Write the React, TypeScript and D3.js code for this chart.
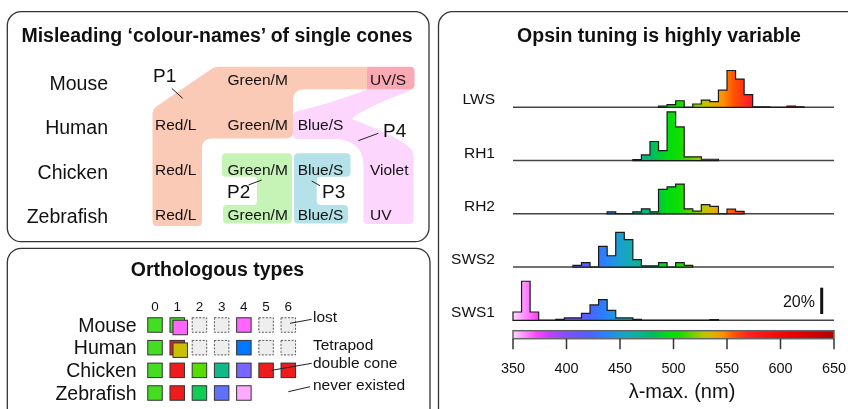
import React from 'react';
import * as d3 from 'd3';

// ---- data ----
const species = ['Mouse', 'Human', 'Chicken', 'Zebrafish'];
const coneNames = [
  ['', 'Green/M', '', 'UV/S'],
  ['Red/L', 'Green/M', 'Blue/S', ''],
  ['Red/L', 'Green/M', 'Blue/S', 'Violet'],
  ['Red/L', 'Green/M', 'Blue/S', 'UV'],
];

const typeIds = [0, 1, 2, 3, 4, 5, 6];
// "a|b" = two overlapping squares, "lost" = dashed grey, "" = never existed
const mouseTypes = ['#44dd22', '#44dd22|#ff66ff', 'lost', 'lost', '#ff66ff', 'lost', 'lost'];
const humanTypes = ['#44dd22', '#ee1c1c|#c8c000', 'lost', 'lost', '#0077ff', 'lost', 'lost'];
const chickenTypes = ['#44dd22', '#ee1c1c', '#55dd00', '#11b888', '#7766ff', '#ee1c1c', '#ee1c1c'];
const zebrafishTypes = ['#44dd22', '#ee1c1c', '#11cc55', '#6070ff', '#ffaaff', '', ''];
const typeRows = [mouseTypes, humanTypes, chickenTypes, zebrafishTypes];

const opsins = ['LWS', 'RH1', 'RH2', 'SWS2', 'SWS1'];
const binWidth = 8; // nm
const lwsStart = 486;
const lwsValues = [1, 2, 5, 0, 2.5, 5.5, 4.3, 13, 28, 21.5, 9.6, 0.3, 0.3, 0, 0, 1, 0.4];
const rh1Start = 462;
const rh1Values = [0.8, 4.3, 14.5, 7.6, 37, 25.6, 2.8, 2.8, 1, 1];
const rh2Start = 438;
const rh2Values = [1.5, 0, 0, 1.5, 3.8, 1.5, 18.5, 20.5, 22.6, 3.8, 2, 7, 5.6, 0, 3.5, 1.8];
const sws2Start = 406;
const sws2Values = [1.3, 3.3, 0, 15.7, 8.6, 26.4, 20.8, 5.6, 1, 1, 3.3, 0, 3.3, 1.3];
const sws1Start = 350;
const sws1Values = [6.3, 29.7, 6.3, 0, 0, 0.8, 1.8, 1.8, 5.3, 11.7, 15.7, 7.6, 1.8, 1.8, 0.8, 0, 0, 0, 0, 0, 0, 0, 0, 0.5];
const histStarts = [lwsStart, rh1Start, rh2Start, sws2Start, sws1Start];
const histValues = [lwsValues, rh1Values, rh2Values, sws2Values, sws1Values];

const nmTicks = [350, 400, 450, 500, 550, 600, 650];
const spectrumNm = [350, 362, 372, 385, 400, 420, 435, 450, 465, 480, 495, 505, 518, 528, 538, 546, 556, 570, 610, 650];
const spectrumColors = ['#ffd6ff', '#ff88ff', '#ff44ff', '#c040ff', '#8050ff', '#5060ff', '#2a80ff', '#1aa0d0',
  '#10b0a0', '#00bb60', '#00dd10', '#10dd00', '#70d000', '#b8c800', '#e0b000', '#ff9000', '#ff5500',
  '#ff2222', '#ee0000', '#b00000'];

const FONT = "'Liberation Sans', Arial, Helvetica, sans-serif";
const INK = '#111';

function histPath(start: number, values: number[], x: any, y: any) {
  const p = d3.path();
  p.moveTo(x(start), y(0));
  values.forEach((v, i) => {
    const a = start + i * binWidth;
    p.lineTo(x(a), y(v));
    p.lineTo(x(a + binWidth), y(v));
  });
  p.lineTo(x(start + values.length * binWidth), y(0));
  p.closePath();
  return p.toString();
}

function ConePanel() {
  const colX = [155, 227.5, 297.7, 370];
  const cellY = d3.scalePoint().domain(species).range([84.5, 220]);
  const nameY = d3.scalePoint().domain(species).range([90, 223]);

  const p1 = `M218 66.7 L410 66.7 Q414.5 66.7 414.5 71 L414.5 85 Q414.5 89.3 410 89.3 L305 89.3 Q293 89.3 293 101
    L293 132 Q293 138.5 286 138.5 L212 138.5 Q202 138.5 202 148 L202 221.5 Q202 226 197.5 226 L157 226
    Q152.5 226 152.5 221.5 L152.5 114 Q152.5 109 157 106 L210 70 Q214 66.7 218 66.7 Z`;
  const p4 = `M370 66.7 L410 66.7 Q414.5 66.7 414.5 71 L414.5 84 Q414.5 89 409 91 C385 100 362 110 352 119
    C375 128 400 138 410 148 Q413.5 151 413.5 158 L413.5 220 Q413.5 224 409.5 224 L367.5 224 Q363.5 224 363.5 220
    L363.5 166 C363.5 150 355 140 335 139 L298 139 Q293 139 293 134 L293 117 Q293 112 298 111
    C320 106 355 95 367 89.3 L367 70 Q367 66.7 370 66.7 Z`;
  const p2 = `M226 153.3 L288 153.3 Q292 153.3 292 157.3 L292 219.5 Q292 223.5 288 223.5 L227 223.5 Q223 223.5 223 219.5
    L223 209 Q223 205 227 205 L252.5 205 Q257 205 257 200.5 L257 181 Q257 176.7 252.5 176.7 L226 176.7
    Q222 176.7 222 172.7 L222 157.3 Q222 153.3 226 153.3 Z`;
  const p3 = `M298 153.3 L346.5 153.3 Q350.5 153.3 350.5 157.3 L350.5 172.7 Q350.5 176.7 346.5 176.7 L321 176.7
    Q316.7 176.7 316.7 181 L316.7 200.5 Q316.7 205 321 205 L344 205 Q348 205 348 209 L348 219.5 Q348 223.5 344 223.5
    L298 223.5 Q294 223.5 294 219.5 L294 157.3 Q294 153.3 298 153.3 Z`;

  return (
    <g>
      <rect x={7.3} y={11.7} width={421.7} height={230} rx={14} fill="#fff" stroke="#333" strokeWidth={1.3} />
      <text x={217} y={42} textAnchor="middle" fontSize={19.5} fontWeight="bold" fill={INK}>
        Misleading ‘colour-names’ of single cones
      </text>
      <path d={p1} fill="#fbcab6" />
      <path d={p4} fill="#fdd6fd" style={{ mixBlendMode: 'multiply' }} />
      <path d={p2} fill="#c6f4b6" />
      <path d={p3} fill="#b5e2e8" />
      {species.map((s, r) => (
        <g key={s}>
          <text x={108} y={nameY(s)} textAnchor="end" fontSize={19.5} fill={INK}>{s}</text>
          {coneNames[r].map((c, i) => c && (
            <text key={i} x={colX[i]} y={cellY(s)} fontSize={15.5} fill={INK}>{c}</text>
          ))}
        </g>
      ))}
      <g fontSize={19} fill={INK}>
        <text x={153} y={82}>P1</text>
        <text x={227} y={198}>P2</text>
        <text x={322} y={198}>P3</text>
        <text x={383} y={137}>P4</text>
      </g>
      <g stroke="#222" strokeWidth={1}>
        <line x1={171.7} y1={88.3} x2={182.7} y2={98.3} />
        <line x1={248.5} y1={185} x2={261.7} y2={180} />
        <line x1={311.7} y1={181} x2={320} y2={185.7} />
        <line x1={358.3} y1={140.7} x2={378.3} y2={133.3} />
      </g>
    </g>
  );
}

function OrthoPanel() {
  const x = d3.scaleLinear().domain([0, 6]).range([155, 288.3]);
  const y = d3.scalePoint().domain(species).range([325, 393]);
  const s = 14.5;
  return (
    <g>
      <rect x={7.3} y={248.3} width={422.7} height={180} rx={14} fill="#fff" stroke="#333" strokeWidth={1.3} />
      <text x={217.5} y={275.7} textAnchor="middle" fontSize={19.5} fontWeight="bold" fill={INK}>Orthologous types</text>
      {typeIds.map(i => (
        <text key={i} x={x(i)} y={311} textAnchor="middle" fontSize={13.5} fill={INK}>{i}</text>
      ))}
      {species.map((sp, r) => {
        const cy = y(sp) as number;
        return (
          <g key={sp}>
            <text x={136.7} y={cy + 6.7} textAnchor="end" fontSize={19.5} fill={INK}>{sp}</text>
            {typeRows[r].map((c, i) => {
              if (!c) return null;
              const cx = x(i);
              if (c === 'lost') {
                return <rect key={i} x={cx - s / 2} y={cy - s / 2} width={s} height={s} fill="#eeeeee"
                  stroke="#555" strokeWidth={1} strokeDasharray="2,1.5" />;
              }
              const parts = c.split('|');
              return (
                <g key={i}>
                  <rect x={cx - s / 2} y={cy - s / 2} width={s} height={s} fill={parts[0]} stroke="#333" strokeWidth={1} />
                  {parts[1] && <rect x={cx - s / 2 + 3} y={cy - s / 2 + 2.5} width={s} height={s} fill={parts[1]}
                    stroke="#333" strokeWidth={1} />}
                </g>
              );
            })}
          </g>
        );
      })}
      <g fontSize={15.5} fill={INK}>
        <text x={313} y={322.3}>lost</text>
        <text x={313} y={349.5}>Tetrapod</text>
        <text x={313} y={367.7}>double cone</text>
        <text x={313} y={390}>never existed</text>
      </g>
      <g stroke="#222" strokeWidth={1}>
        <line x1={290} y1={323.3} x2={311.7} y2={319.3} />
        <line x1={271.7} y1={370.3} x2={311.7} y2={363.3} />
        <line x1={288.3} y1={391.7} x2={310} y2={386.7} />
      </g>
    </g>
  );
}

function OpsinPanel() {
  const x = d3.scaleLinear().domain([350, 650]).range([513, 834]);
  const base = d3.scalePoint().domain(opsins).range([107.3, 320.3]);
  const pxPer20 = 26.3;
  const barTop = 330.7;
  const barH = 8;
  return (
    <g>
      <defs>
        <linearGradient id="spec" gradientUnits="userSpaceOnUse" x1={x(350)} x2={x(650)} y1={0} y2={0}>
          {spectrumNm.map((nm, i) => (
            <stop key={nm} offset={(nm - 350) / 300} stopColor={spectrumColors[i]} />
          ))}
        </linearGradient>
      </defs>
      <rect x={438.5} y={11.7} width={430} height={420} rx={14} fill="#fff" stroke="#333" strokeWidth={1.3} />
      <text x={659} y={42} textAnchor="middle" fontSize={19.5} fontWeight="bold" fill={INK}>
        Opsin tuning is highly variable
      </text>
      {opsins.map((o, k) => {
        const b = base(o) as number;
        const y = d3.scaleLinear().domain([0, 20]).range([b, b - pxPer20]);
        return (
          <g key={o}>
            <text x={495} y={b - 3} textAnchor="end" fontSize={15.5} fill={INK}>{o}</text>
            <line x1={x(350)} x2={x(650)} y1={b} y2={b} stroke="#444" strokeWidth={1.5} />
            <path d={histPath(histStarts[k], histValues[k], x, y)} fill="url(#spec)" stroke="#1a1a1a"
              strokeWidth={1.2} />
          </g>
        );
      })}
      {/* scale bar */}
      <line x1={821.7} x2={821.7} y1={287.7} y2={287.7 + pxPer20} stroke="#111" strokeWidth={3} />
      <text x={815} y={306.7} textAnchor="end" fontSize={16} fill={INK}>20%</text>
      {/* colour bar */}
      <rect x={x(350)} y={barTop} width={x(650) - x(350)} height={barH} fill="url(#spec)" stroke="#666" strokeWidth={1.5} />
      {nmTicks.map(t => (
        <g key={t}>
          <line x1={x(t)} x2={x(t)} y1={barTop + barH} y2={barTop + barH + 10.5} stroke="#333" strokeWidth={1.5} />
          <text x={x(t)} y={373.3} textAnchor="middle" fontSize={14.5} fill={INK}>{t}</text>
        </g>
      ))}
      <text x={682} y={398} textAnchor="middle" fontSize={20} fill={INK}>λ-max. (nm)</text>
    </g>
  );
}

export default function App() {
  return (
    <svg width={848} height={409} style={{ position: 'absolute', left: 0, top: 0, background: '#fff' }}
      fontFamily={FONT}>
      <rect width={848} height={409} fill="#fff" />
      <ConePanel />
      <OrthoPanel />
      <OpsinPanel />
    </svg>
  );
}
